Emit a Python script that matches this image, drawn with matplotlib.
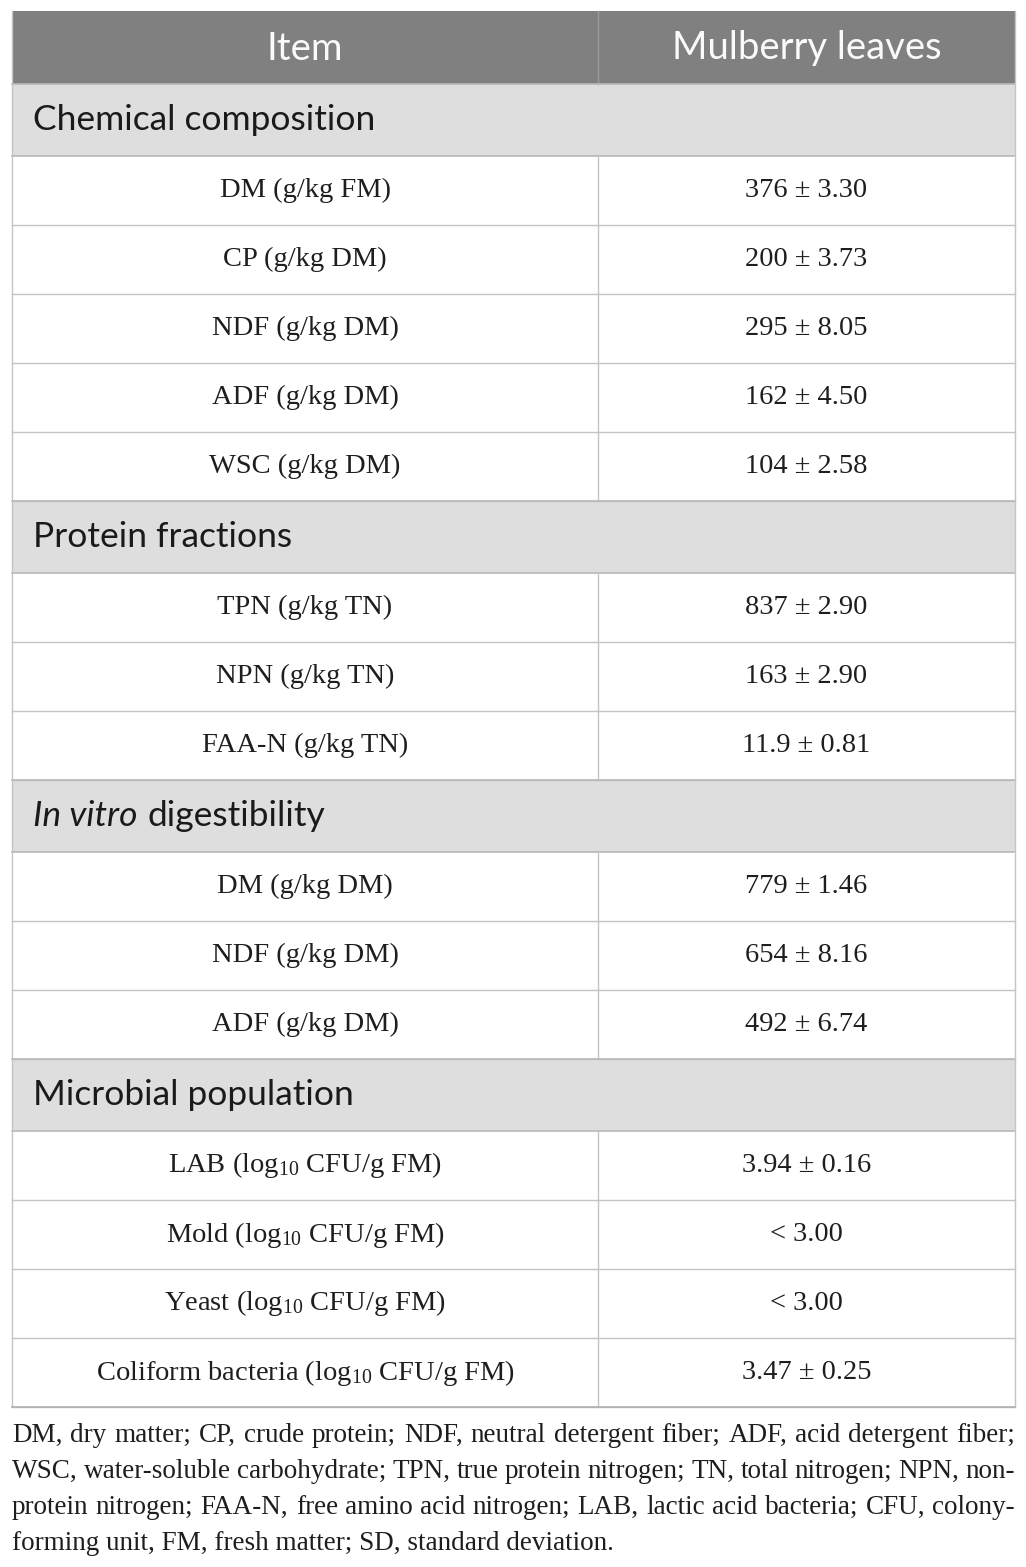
import matplotlib
matplotlib.use("Agg")
import matplotlib.pyplot as plt
from matplotlib.patches import Rectangle

plt.rcParams['mathtext.fontset'] = 'custom'
plt.rcParams['mathtext.rm'] = 'Liberation Serif'
plt.rcParams['mathtext.it'] = 'Liberation Serif:italic'

# ---------------- data ----------------
header = ["Item", "Mulberry leaves"]
sections = ["Chemical composition", "Protein fractions",
            "In vitro digestibility", "Microbial population"]
chem_items = ["DM (g/kg FM)", "CP (g/kg DM)", "NDF (g/kg DM)", "ADF (g/kg DM)", "WSC (g/kg DM)"]
chem_vals = ["376 ± 3.30", "200 ± 3.73", "295 ± 8.05", "162 ± 4.50", "104 ± 2.58"]
prot_items = ["TPN (g/kg TN)", "NPN (g/kg TN)", "FAA-N (g/kg TN)"]
prot_vals = ["837 ± 2.90", "163 ± 2.90", "11.9 ± 0.81"]
dig_items = ["DM (g/kg DM)", "NDF (g/kg DM)", "ADF (g/kg DM)"]
dig_vals = ["779 ± 1.46", "654 ± 8.16", "492 ± 6.74"]
micro_items = [r"LAB (lo$\mathrm{g}_{10}$ CFU/g FM)", r"Mold (lo$\mathrm{g}_{10}$ CFU/g FM)",
               r"Yeast (lo$\mathrm{g}_{10}$ CFU/g FM)", r"Coliform bacteria (lo$\mathrm{g}_{10}$ CFU/g FM)"]
micro_vals = ["3.94 ± 0.16", "< 3.00", "< 3.00", "3.47 ± 0.25"]
footnote = [
    "DM, dry matter; CP, crude protein; NDF, neutral detergent fiber; ADF, acid detergent fiber;",
    "WSC, water-soluble carbohydrate; TPN, true protein nitrogen; TN, total nitrogen; NPN, non-",
    "protein nitrogen; FAA-N, free amino acid nitrogen; LAB, lactic acid bacteria; CFU, colony-",
    "forming unit, FM, fresh matter; SD, standard deviation.",
]

blocks = [(sections[0], chem_items, chem_vals),
          (sections[1], prot_items, prot_vals),
          (sections[2], dig_items, dig_vals),
          (sections[3], micro_items, micro_vals)]

# ---------------- layout (pixels) ----------------
W, H = 1026, 1567
x0, x1, xmid = 12, 1015, 598
top = 11
h_head, h_sec, h_row = 73, 72, 69
sans = "Lato"
serif = "Liberation Serif"
line_c = "#c4c4c4"

fig = plt.figure(figsize=(W / 100, H / 100), dpi=100)
ax = fig.add_axes([0, 0, 1, 1])
ax.set_xlim(0, W)
ax.set_ylim(H, 0)
ax.axis("off")

# header
ax.add_patch(Rectangle((x0, top), x1 - x0, h_head, color="#808080", lw=0))
ax.plot([xmid, xmid], [top, top + h_head], color="#9a9a9a", lw=1)
ax.text((x0 + xmid) / 2, top + h_head / 2 + 1, header[0], ha="center", va="center",
        color="#fafafa", fontsize=27.5, family=sans)
ax.text((xmid + x1) / 2, top + h_head / 2 + 1, header[1], ha="center", va="center",
        color="#fafafa", fontsize=27.5, family=sans)

fig.canvas.draw()
rend = fig.canvas.get_renderer()

y = top + h_head
for sec, items, vals in blocks:
    ax.add_patch(Rectangle((x0, y), x1 - x0, h_sec, color="#dedede", lw=0))
    ax.plot([x0, x1], [y, y], color="#b8b8b8", lw=1.2)
    ax.plot([x0, x1], [y + h_sec, y + h_sec], color="#b8b8b8", lw=1.2)
    yc = y + h_sec / 2
    if sec.startswith("In vitro"):
        t = ax.text(33, yc, "In vitro", ha="left", va="center", fontsize=25.5,
                    family=sans, style="italic", color="#1a1a1a")
        bb = t.get_window_extent(rend).transformed(ax.transData.inverted())
        ax.text(max(bb.x0, bb.x1) + 10, yc, "digestibility", ha="left", va="center",
                fontsize=25.5, family=sans, color="#1a1a1a")
    else:
        ax.text(33, yc, sec, ha="left", va="center", fontsize=25.5, family=sans,
                color="#1a1a1a")
    y += h_sec
    for it, v in zip(items, vals):
        ax.text((x0 + xmid) / 2, y + h_row / 2, it, ha="center", va="center",
                fontsize=20.5, family=serif, color="#1e1e1e")
        ax.text((xmid + x1) / 2, y + h_row / 2, v, ha="center", va="center",
                fontsize=20.5, family=serif, color="#1e1e1e")
        ax.plot([xmid, xmid], [y, y + h_row], color=line_c, lw=1)
        y += h_row
        ax.plot([x0, x1], [y, y], color=line_c, lw=1)

# outer border
ax.plot([x0, x0], [top, y], color=line_c, lw=1)
ax.plot([x1, x1], [top, y], color=line_c, lw=1)
ax.plot([x0, x1], [y, y], color="#b0b0b0", lw=1.2)

# footnote, justified
fy = 1435
for i, line in enumerate(footnote):
    if i == len(footnote) - 1:
        ax.text(x0, fy, line, ha="left", va="center", fontsize=19.5, family=serif,
                color="#1e1e1e")
    else:
        words = line.split(" ")
        ts = [ax.text(0, fy, w, ha="left", va="center", fontsize=19.5, family=serif,
                      color="#1e1e1e") for w in words]
        wids = []
        for t in ts:
            bb = t.get_window_extent(rend).transformed(ax.transData.inverted())
            wids.append(abs(bb.x1 - bb.x0))
        gap = (x1 - x0 - sum(wids)) / (len(words) - 1)
        xx = x0
        for t, w in zip(ts, wids):
            t.set_x(xx)
            xx += w + gap
    fy += 36

fig.savefig("out.png", dpi=100, facecolor="white")
